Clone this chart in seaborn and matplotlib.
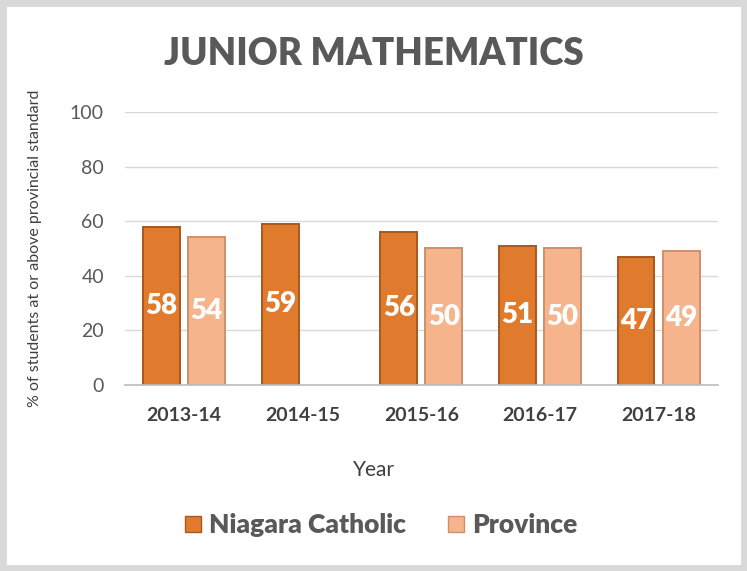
import matplotlib
matplotlib.use("Agg")
import matplotlib.pyplot as plt
import seaborn as sns
import pandas as pd
import numpy as np
from matplotlib.patches import Rectangle

years = ["2013-14", "2014-15", "2015-16", "2016-17", "2017-18"]
niagara = [58, 59, 56, 51, 47]
province = [54, np.nan, 50, 50, 49]
series_names = ["Niagara Catholic", "Province"]
colors = ["#E07B2E", "#F6B48D"]
edges = ["#A9581E", "#CF8F6A"]

rows = []
for y, a, b in zip(years, niagara, province):
    rows.append({"Year": y, "Series": series_names[0], "Value": a})
    rows.append({"Year": y, "Series": series_names[1], "Value": b})
df = pd.DataFrame(rows)

sns.set_theme(style="white")
plt.rcParams["font.family"] = ["Lato", "DejaVu Sans"]

fig = plt.figure(figsize=(7.47, 5.71), dpi=100)
ax = fig.add_axes([0.167, 0.326, 0.794, 0.478])

sns.barplot(data=df, x="Year", y="Value", hue="Series", order=years,
            hue_order=series_names, palette=colors, width=0.76, gap=0.18,
            ax=ax, legend=False, saturation=1)

# style bars & labels
for i, cont in enumerate(ax.containers):
    for bar in cont:
        h = bar.get_height()
        if h is None or np.isnan(h) or h <= 0:
            continue
        bar.set_edgecolor(edges[i])
        bar.set_linewidth(1.4)
        ax.text(bar.get_x() + bar.get_width() / 2, h / 2, f"{int(round(h))}",
                ha="center", va="center", color="white", fontsize=20,
                fontweight="heavy")

ax.set_ylim(0, 100)
ax.set_yticks([0, 20, 40, 60, 80, 100])
ax.grid(axis="y", color="#D9D9D9", linewidth=1)
ax.set_axisbelow(True)
for s in ["top", "right", "left"]:
    ax.spines[s].set_visible(False)
ax.spines["bottom"].set_color("#BFBFBF")
ax.tick_params(axis="y", labelsize=14, labelcolor="#595959", length=0, pad=15)
ax.tick_params(axis="x", labelsize=14, labelcolor="#404040", length=0, pad=16)
for lab in ax.get_xticklabels():
    lab.set_fontweight("bold")
ax.set_xlabel("")
ax.set_ylabel("% of students at or above provincial standard", fontsize=11.5,
              color="#404040", labelpad=20)
fig.text(0.5, 0.177, "Year", ha="center", va="center", fontsize=15, color="#404040")

fig.text(0.5, 0.905, "JUNIOR MATHEMATICS", ha="center", va="center",
         fontsize=26.5, fontweight="heavy", color="#595959")

handles = [Rectangle((0, 0), 1, 1, facecolor=colors[i], edgecolor=edges[i])
           for i in range(2)]
leg = fig.legend(handles, series_names, loc="center", bbox_to_anchor=(0.51, 0.08),
                 ncol=2, frameon=False, fontsize=19, handlelength=0.6,
                 handleheight=0.6, columnspacing=1.6, handletextpad=0.3)
for t in leg.get_texts():
    t.set_fontweight("heavy")
    t.set_color("#595959")

# outer frame
fig.patches.append(Rectangle((0.004, 0.005), 0.992, 0.99, transform=fig.transFigure,
                             fill=False, edgecolor="#D9D9D9", linewidth=5))

fig.savefig("out.png", dpi=100, facecolor="white")
